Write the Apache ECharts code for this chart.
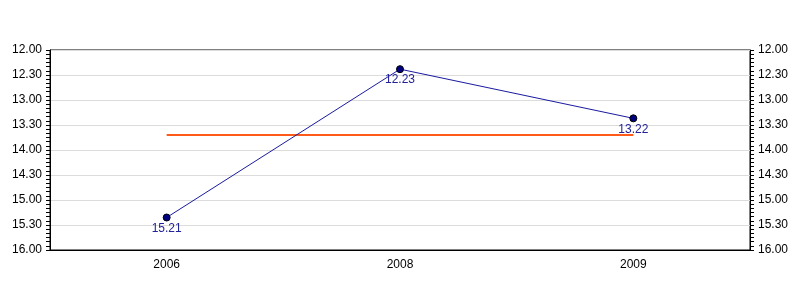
<!DOCTYPE html>
<html>
<head>
<meta charset="utf-8">
<script src="https://cdn.jsdelivr.net/npm/echarts@6/dist/echarts.min.js"></script>
<style>html,body{margin:0;padding:0;background:#fff}#c{width:800px;height:300px}</style>
</head>
<body>
<div id="c"></div>
<script>
// categories (years)
var categories = ['2006', '2008', '2009'];
// times in seconds (15:21, 12:23, 13:22)
var timeSeconds = [921, 743, 802];
// average line in seconds (13:42)
var averageSeconds = [822, 822, 822];
// axis range in seconds (12:00 .. 16:00), major every 30 s
var axisMin = 720, axisMax = 960, axisStep = 30;

function fmt(sec) {
  var m = Math.floor(sec / 60), s = Math.round(sec - m * 60);
  return m + '.' + (s < 10 ? '0' : '') + s;
}

var font = 'Liberation Sans, Arial, sans-serif';
function yAx(pos) {
  return {
    type: 'value', position: pos, inverse: true,
    min: axisMin, max: axisMax, interval: axisStep,
    axisLine: {show: true, lineStyle: {color: '#000', width: 1}},
    axisTick: {show: true, length: 4, lineStyle: {color: '#000'}},
    minorTick: {show: true, splitNumber: 6, length: 4, lineStyle: {color: '#000'}},
    axisLabel: {color: '#000', fontSize: 12, fontFamily: font, margin: 8, formatter: fmt},
    splitLine: {show: pos === 'left', lineStyle: {color: '#dcdcdc', width: 1}}
  };
}

var chart = echarts.init(document.getElementById('c'), null, {renderer: 'canvas'});
chart.setOption({
  animation: false,
  backgroundColor: '#fff',
  grid: {left: 50, right: 50, top: 50, bottom: 50, show: true, borderColor: '#000', borderWidth: 1, backgroundColor: 'transparent'},
  xAxis: {
    type: 'category', data: categories, boundaryGap: true,
    axisLine: {lineStyle: {color: '#000', width: 1}},
    axisTick: {alignWithLabel: true, length: 5, lineStyle: {color: '#000'}},
    axisLabel: {color: '#000', fontSize: 12, fontFamily: font, margin: 9},
    splitLine: {show: false}
  },
  yAxis: [yAx('left'), yAx('right')],
  series: [
    {
      type: 'line', data: averageSeconds, symbol: 'none', z: 2,
      lineStyle: {color: '#ff5a1a', width: 2}
    },
    {
      type: 'line', data: timeSeconds, symbol: 'circle', symbolSize: 7, z: 3,
      lineStyle: {color: '#1a1aa0', width: 1},
      itemStyle: {color: '#000080', borderColor: '#000', borderWidth: 1},
      label: {show: true, position: 'bottom', distance: 1, color: '#22229a', fontSize: 12, fontFamily: font,
        formatter: function (p) { return fmt(p.value); }}
    }
  ]
});
</script>
</body>
</html>
